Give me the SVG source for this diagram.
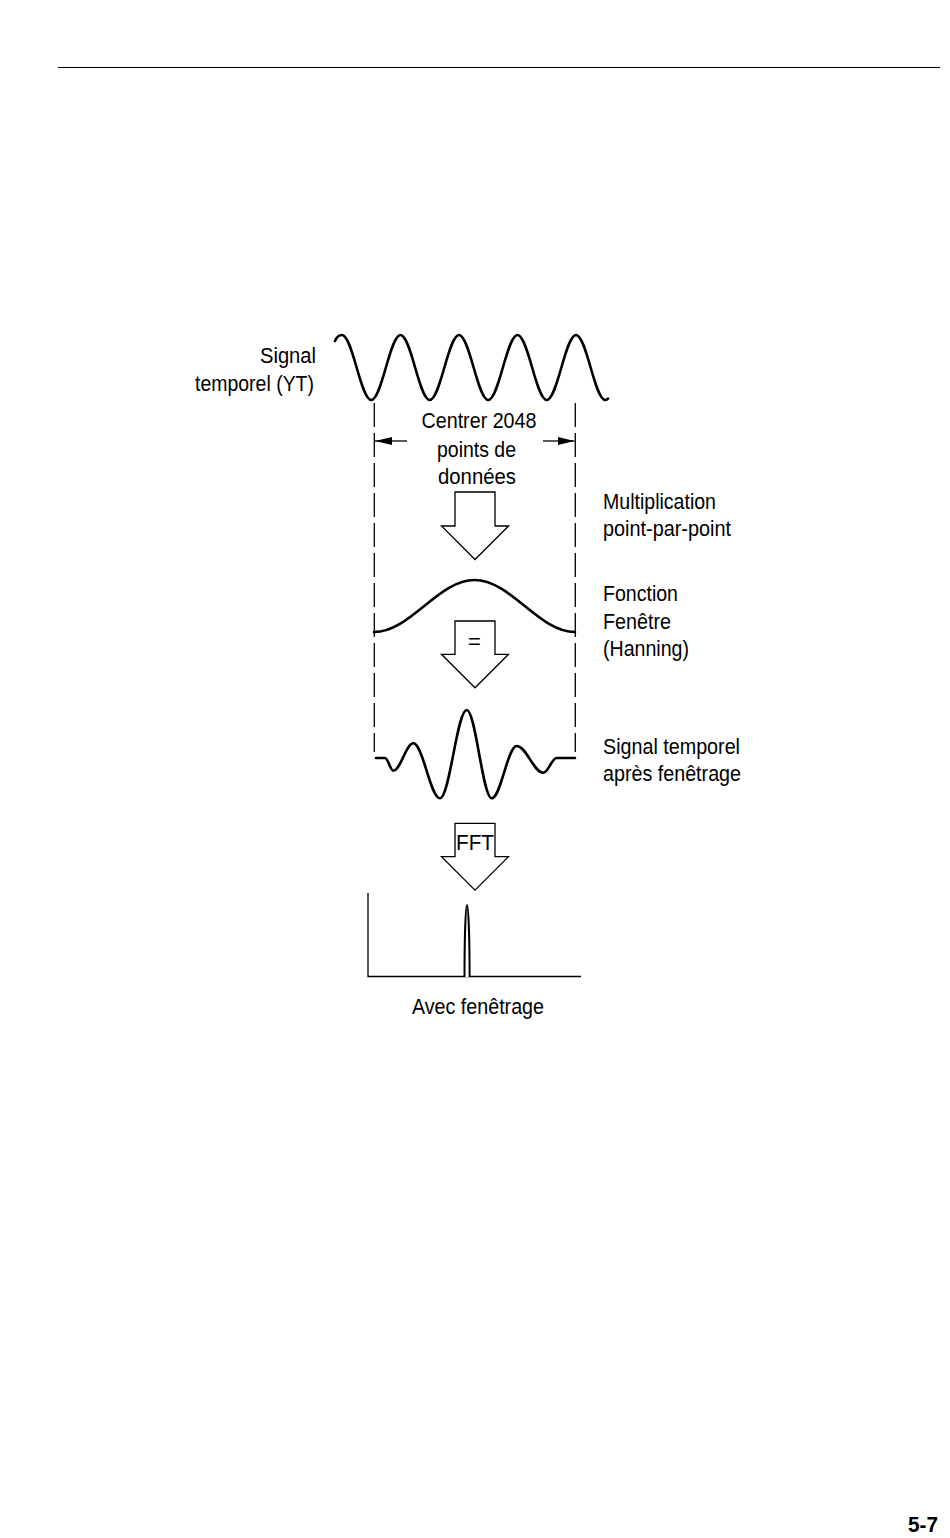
<svg xmlns="http://www.w3.org/2000/svg" width="950" height="1538" viewBox="0 0 950 1538">
  <style>
    .t { font-family: "Liberation Sans", Arial, sans-serif; font-size: 22px; fill: #000; }
    .wave { fill: none; stroke: #000; stroke-width: 2.6; stroke-linejoin: round; stroke-linecap: round; }
    .thin { fill: none; stroke: #000; stroke-width: 1.3; }
    .block { fill: #fff; stroke: #000; stroke-width: 1.3; stroke-linejoin: miter; }
    .dash { fill: none; stroke: #000; stroke-width: 1.3; stroke-dasharray: 24 6; }
  </style>
  <defs>
    <marker id="ah" markerWidth="17" markerHeight="8" refX="17" refY="4" orient="auto" markerUnits="userSpaceOnUse">
      <path d="M0,0 L17,4 L0,8 Z" fill="#000"/>
    </marker>
  </defs>
  <rect width="950" height="1538" fill="#fff"/>

  <g id="page-rule">
    <line x1="58" y1="67.5" x2="940" y2="67.5" stroke="#000" stroke-width="1"/>
  </g>

  <g id="time-signal">
    <path class="wave" d="M335,341 Q337.5,335 342,335 C352.63,335 360.62,400 371.25,400 C381.88,400 389.87,335 400.5,335 C411.13,335 419.12,400 429.75,400 C440.38,400 448.37,335 459,335 C469.63,335 477.62,400 488.25,400 C498.88,400 506.87,335 517.5,335 C528.13,335 536.12,400 546.75,400 C557.38,400 565.37,335 576,335 C586.63,335 594.62,400 605.25,400 Q607,400 608,398.5"/>
    <text class="t" x="260" y="362.5" textLength="56" lengthAdjust="spacingAndGlyphs">Signal</text>
    <text class="t" x="195" y="391" textLength="119" lengthAdjust="spacingAndGlyphs">temporel (YT)</text>
  </g>

  <g id="center-label">
    <text class="t" x="421.5" y="428" textLength="115" lengthAdjust="spacingAndGlyphs">Centrer 2048</text>
    <text class="t" x="437" y="456.5" textLength="79" lengthAdjust="spacingAndGlyphs">points de</text>
    <text class="t" x="438" y="483.5" textLength="78" lengthAdjust="spacingAndGlyphs">données</text>
  </g>

  <g id="multiplication-label">
    <text class="t" x="603" y="508.5" textLength="113" lengthAdjust="spacingAndGlyphs">Multiplication</text>
    <text class="t" x="603" y="536" textLength="128" lengthAdjust="spacingAndGlyphs">point-par-point</text>
  </g>

  <g id="window-function">
    <path class="wave" d="M374,632 C410.5,632 438,580 474.5,580 C511,580 538.5,632 575,632"/>
    <text class="t" x="603" y="601" textLength="75" lengthAdjust="spacingAndGlyphs">Fonction</text>
    <text class="t" x="603" y="628.5" textLength="68" lengthAdjust="spacingAndGlyphs">Fenêtre</text>
    <text class="t" x="603" y="656" textLength="86" lengthAdjust="spacingAndGlyphs">(Hanning)</text>
  </g>

  <g id="windowed-signal">
    <path class="wave" d="M376,758 L385,758 C388,758 390.3,770.7 393.3,770.7 C400.57,770.7 406.03,743.3 413.3,743.3 C423,743.3 430.3,798.3 440,798.3 C449.7,798.3 457,710 466.7,710 C475.8,710 482.6,798.3 491.7,798.3 C500.8,798.3 507.6,746 516.7,746 C526.4,746 533.6,772.7 543.3,772.7 C548.2,772.7 551.8,758 556.7,758 L575,758"/>
    <text class="t" x="603" y="754" textLength="137" lengthAdjust="spacingAndGlyphs">Signal temporel</text>
    <text class="t" x="603" y="781" textLength="138" lengthAdjust="spacingAndGlyphs">après fenêtrage</text>
  </g>

  <g id="spectrum">
    <path class="thin" d="M368,893 L368,976.5 L581,976.5"/>
    <path d="M464.5,977 C464.5,940 465.6,905 467,905 C468.4,905 469.6,940 469.6,977" fill="#fff" stroke="#000" stroke-width="2"/>
    <text class="t" x="412" y="1014" textLength="132" lengthAdjust="spacingAndGlyphs">Avec fenêtrage</text>
  </g>

  <g id="connectors">
    <line class="dash" x1="374.3" y1="403" x2="374.3" y2="752"/>
    <line class="dash" x1="575.3" y1="403" x2="575.3" y2="752"/>
    <line class="thin" x1="407" y1="441" x2="375" y2="441" marker-end="url(#ah)"/>
    <line class="thin" x1="543" y1="441" x2="574.5" y2="441" marker-end="url(#ah)"/>
    <polygon class="block" points="455,492 495,492 495,526 508.5,526 475,559.5 441.5,526 455,526"/>
    <polygon class="block" points="455,621 495,621 495,654.3 508.5,654.3 475,687.8 441.5,654.3 455,654.3"/>
    <text class="t" x="474.5" y="649" font-size="17" text-anchor="middle">=</text>
    <polygon class="block" points="455,823.3 495,823.3 495,856.7 508.5,856.7 475,890.2 441.5,856.7 455,856.7"/>
    <text class="t" x="456" y="850" font-size="23" textLength="38" lengthAdjust="spacingAndGlyphs">FFT</text>
  </g>

  <g id="page-number">
    <text class="t" x="908" y="1532" font-size="23" font-weight="bold" textLength="30" lengthAdjust="spacingAndGlyphs">5-7</text>
  </g>
</svg>
